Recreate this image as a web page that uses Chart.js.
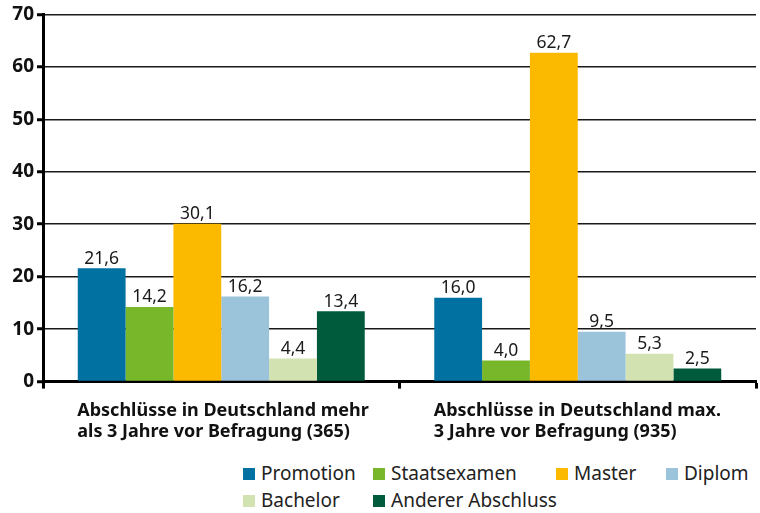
<!DOCTYPE html>
<html>
<head>
<meta charset="utf-8">
<script src="https://cdn.jsdelivr.net/npm/chart.js@4"></script>
<style>
    body { margin: 0; background: #fff; font-family: "Noto Sans", sans-serif; }
    #wrap { position: relative; width: 760px; height: 513px; }
    #chartBox { position: absolute; left: 0; top: 0; width: 760px; height: 455px; }
    #legend { position: absolute; left: 0; top: 460px; width: 760px; height: 53px; }
    .item { position: absolute; font-size: 19px; color: #222; line-height: 22px; white-space: nowrap; }
    .item span { display: inline-block; width: 12px; height: 12px; margin-right: 6px; vertical-align: 0px; }
</style>
</head>
<body>
<div id="wrap">
    <div id="chartBox"><canvas id="barChart" width="760" height="455"></canvas></div>
    <div id="legend"></div>
</div>
<script>
// Data
const categories = [
    ['Abschlüsse in Deutschland mehr', 'als 3 Jahre vor Befragung (365)'],
    ['Abschlüsse in Deutschland max.', '3 Jahre vor Befragung (935)']
];
const seriesNames = ['Promotion', 'Staatsexamen', 'Master', 'Diplom', 'Bachelor', 'Anderer Abschluss'];
const promotion = [21.6, 16.0];
const staatsexamen = [14.2, 4.0];
const master = [30.1, 62.7];
const diplom = [16.2, 9.5];
const bachelor = [4.4, 5.3];
const anderer = [13.4, 2.5];
const yTicks = [0, 10, 20, 30, 40, 50, 60, 70];

const seriesColors = ['#0071a0', '#78b72a', '#fbb900', '#9bc4db', '#d3e2b1', '#005a3c'];
const seriesValues = [promotion, staatsexamen, master, diplom, bachelor, anderer];

// Draw the numbers above each bar (German decimal comma)
const valueLabels = {
    id: 'valueLabels',
    afterDatasetsDraw(chart) {
        const ctx = chart.ctx;
        ctx.save();
        ctx.font = '17.5px "Noto Sans"';
        ctx.fillStyle = '#1a1a1a';
        ctx.textAlign = 'center';
        ctx.textBaseline = 'bottom';
        chart.data.datasets.forEach((ds, i) => {
            chart.getDatasetMeta(i).data.forEach((bar, j) => {
                ctx.fillText(ds.data[j].toFixed(1).replace('.', ','), bar.x, bar.y - 1);
            });
        });
        ctx.restore();
    }
};

new Chart(document.getElementById('barChart').getContext('2d'), {
    type: 'bar',
    data: {
        labels: categories,
        datasets: seriesNames.map((name, i) => ({
            label: name,
            data: seriesValues[i],
            backgroundColor: seriesColors[i],
            categoryPercentage: 0.805,
            barPercentage: 1.0
        }))
    },
    options: {
        responsive: false,
        animation: false,
        layout: { padding: { top: 8, right: 4, left: 0, bottom: 1 } },
        plugins: { legend: { display: false }, tooltip: { enabled: false } },
        scales: {
            y: {
                min: 0,
                max: 70,
                afterBuildTicks: (scale) => { scale.ticks = yTicks.map(v => ({ value: v })); },
                afterFit: (scale) => { scale.width = 43; },
                border: { color: '#000', width: 3 },
                grid: { color: '#1a1a1a', lineWidth: 1.5, tickColor: '#000', tickWidth: 3, tickLength: 6 },
                ticks: { color: '#111', font: { family: 'Noto Sans', size: 19, weight: 'bold' }, padding: 3 }
            },
            x: {
                afterFit: (scale) => { scale.paddingLeft = 0; scale.paddingRight = 0; },
                border: { color: '#000', width: 3 },
                grid: { drawOnChartArea: false, offset: true, tickColor: '#000', tickWidth: 3, tickLength: 7 },
                ticks: {
                    color: '#111',
                    align: 'start',
                    labelOffset: -144,
                    padding: 12,
                    maxRotation: 0,
                    font: { family: 'Noto Sans', size: 18, weight: 'bold', lineHeight: 1.15 }
                }
            }
        }
    },
    plugins: [valueLabels]
});

// Legend laid out in the reference's grid (4 columns, 2 rows)
const legendCols = [243, 373, 556, 666];
const legendEl = document.getElementById('legend');
seriesNames.forEach((name, i) => {
    const el = document.createElement('div');
    el.className = 'item';
    el.style.left = legendCols[i % 4] + 'px';
    el.style.top = (i < 4 ? 2 : 29) + 'px';
    el.innerHTML = '<span style="background:' + seriesColors[i] + '"></span>' + name;
    legendEl.appendChild(el);
});
</script>
</body>
</html>
